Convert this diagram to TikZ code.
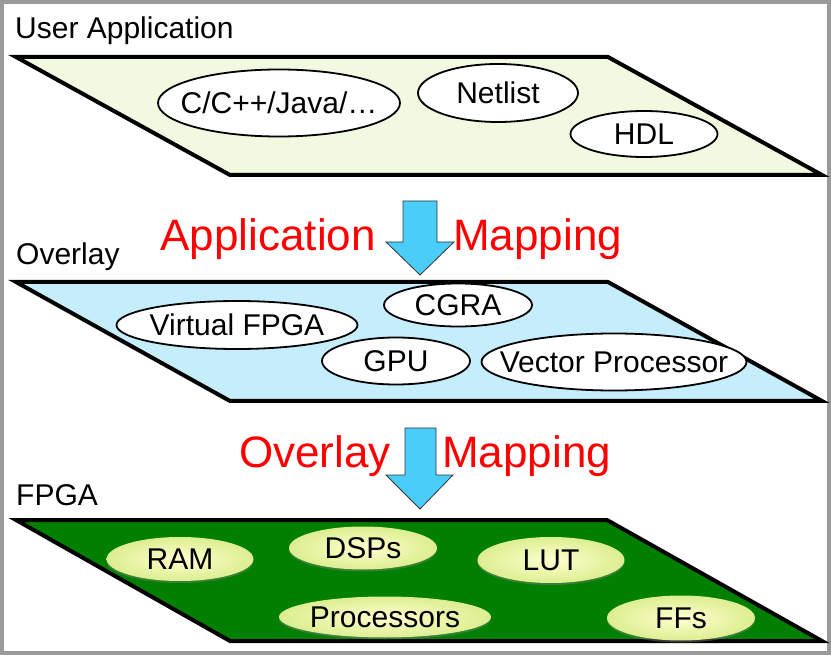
\documentclass[tikz,border=0pt]{standalone}
\usepackage{fontspec}
\setmainfont{Liberation Sans}
\usetikzlibrary{shapes.geometric,shadows}
\definecolor{toplayer}{HTML}{F1F9E0}
\definecolor{ovlayer}{HTML}{C5EDFC}
\definecolor{fpgagreen}{HTML}{007F00}
\definecolor{arrowblue}{HTML}{4BCDF9}
\definecolor{ellin}{HTML}{FFFFD0}
\definecolor{ellout}{HTML}{DCEE90}
\definecolor{framegray}{HTML}{9A9A9A}
\newcommand{\ztext}[1]{\makebox[0pt][c]{#1}}
\begin{document}
\begin{tikzpicture}[x=1pt,y=-1pt,
  layerbox/.style={draw=black,line width=4pt},
  whiteell/.style={ellipse,draw=black,line width=1.8pt,fill=white,inner sep=0pt,
    text height=21.5pt,text depth=0pt,font=\fontsize{30}{36}\selectfont},
  yellell/.style={ellipse,inner sep=0pt,inner color=ellin,outer color=ellout,
    drop shadow={shadow xshift=0pt,shadow yshift=-2pt,opacity=0.45},
    text height=21.5pt,text depth=0pt,font=\fontsize{30}{36}\selectfont},
  layerlbl/.style={font=\fontsize{30}{36}\selectfont,inner sep=0pt},
  redlbl/.style={font=\fontsize{44}{52}\selectfont,text=red,inner sep=0pt},
  bigarrow/.style={draw=black!80,line width=0.8pt,fill=arrowblue,line join=miter}]
\useasboundingbox (0,0) rectangle (831,655);
% frame
\draw[framegray,line width=4pt] (2,2) rectangle (829,653);

% layer labels
\node[layerlbl,anchor=base west] (lua) at (15,39) {User Application};
\node[layerlbl,anchor=base west] (lov) at (16,265) {Overlay};
\node[layerlbl,anchor=base west] (lfp) at (16,505) {FPGA};

% top layer
\draw[layerbox,fill=toplayer] (16,57) -- (608,57) -- (822,175) -- (230,175) -- cycle;
\node[whiteell,minimum width=242pt,minimum height=67pt] (cc) at (279,103) {\ztext{C/C++/Java/…}};
\node[whiteell,minimum width=160pt,minimum height=58pt] (net) at (498,93) {\ztext{Netlist}};
\node[whiteell,minimum width=147pt,minimum height=46pt] (hdl) at (644,134) {\ztext{HDL}};

% arrow 1 + labels
\draw[bigarrow] (403,201) -- (437,201) -- (437,242) -- (454,242) -- (420,275) -- (386,242) -- (403,242) -- cycle;
\node[redlbl,anchor=base east] (am1) at (376,251) {Application};
\node[redlbl,anchor=base west] (am2) at (453,251) {Mapping};

% overlay layer
\draw[layerbox,fill=ovlayer] (16,282) -- (608,282) -- (822,401) -- (230,401) -- cycle;
\node[whiteell,minimum width=241pt,minimum height=48pt] (vf) at (237,325) {\ztext{Virtual FPGA}};
\node[whiteell,minimum width=148pt,minimum height=43pt] (cg) at (458,305) {\ztext{CGRA}};
\node[whiteell,minimum width=148pt,minimum height=47pt] (gpu) at (396,361) {\ztext{GPU}};
\node[whiteell,minimum width=265pt,minimum height=57pt] (vp) at (614,362) {\ztext{Vector Processor}};

% arrow 2 + labels
\draw[bigarrow] (405,428) -- (436,428) -- (436,475) -- (453,475) -- (420,509) -- (386,475) -- (405,475) -- cycle;
\node[redlbl,anchor=base east] (om1) at (391,467) {Overlay};
\node[redlbl,anchor=base west] (om2) at (442,467) {Mapping};

% FPGA layer
\draw[layerbox,fill=fpgagreen] (16,520) -- (607,520) -- (822,641) -- (230,641) -- cycle;
\node[yellell,minimum width=147pt,minimum height=44pt] (ram) at (180,559) {\ztext{RAM}};
\node[yellell,minimum width=148pt,minimum height=43pt] (dsp) at (363,548) {\ztext{DSPs}};
\node[yellell,minimum width=147pt,minimum height=46pt] (lut) at (551,560) {\ztext{LUT}};
\node[yellell,minimum width=212pt,minimum height=41pt] (proc) at (385,617) {\ztext{Processors}};
\node[yellell,minimum width=148pt,minimum height=45pt] (ffs) at (681,618) {\ztext{FFs}};
\end{tikzpicture}
\end{document}
